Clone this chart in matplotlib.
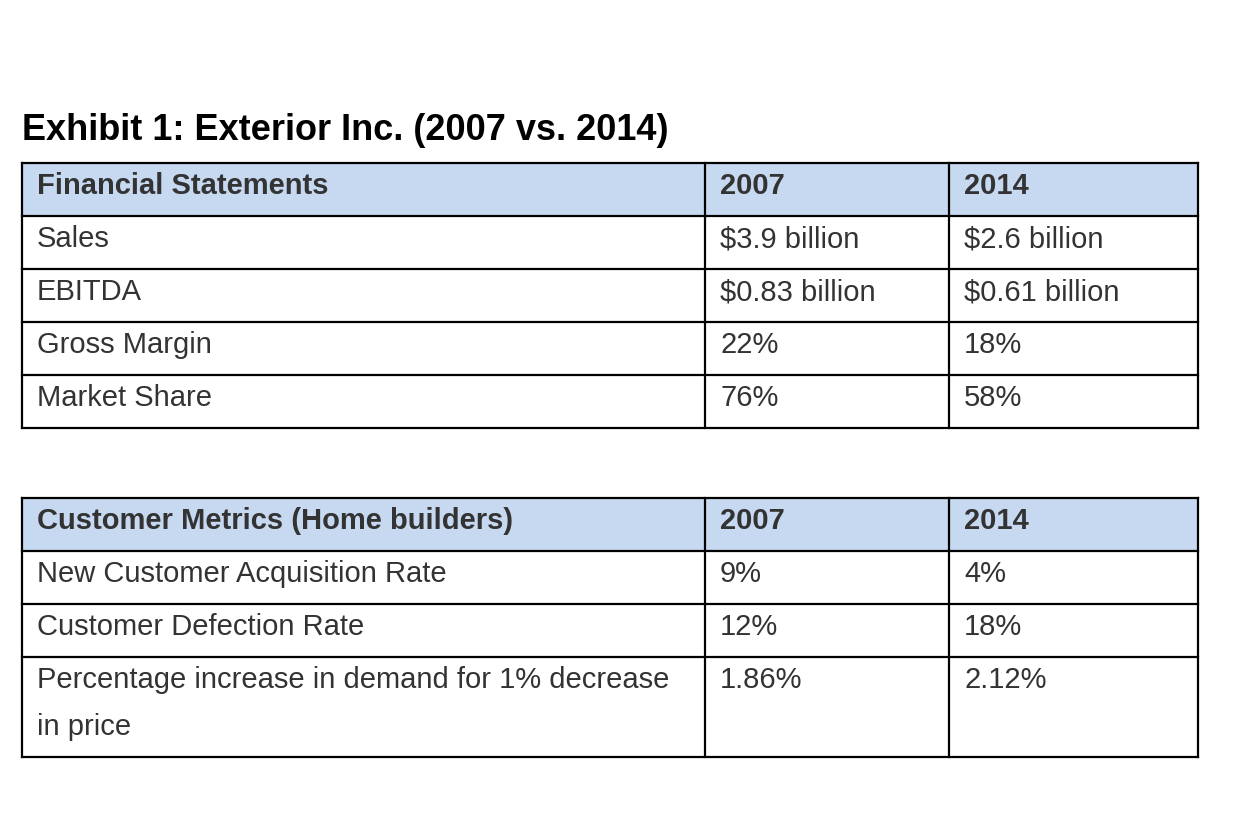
import matplotlib
matplotlib.use('Agg')
import matplotlib.pyplot as plt
from matplotlib.patches import Rectangle

plt.rcParams['font.family'] = ['Liberation Sans', 'DejaVu Sans']

# Data
title = "Exhibit 1: Exterior Inc. (2007 vs. 2014)"
years = ["2007", "2014"]

fin_header = "Financial Statements"
fin_rows = ["Sales", "EBITDA", "Gross Margin", "Market Share"]
fin_2007 = ["$3.9 billion", "$0.83 billion", "22%", "76%"]
fin_2014 = ["$2.6 billion", "$0.61 billion", "18%", "58%"]

cust_header = "Customer Metrics (Home builders)"
cust_rows = ["New Customer Acquisition Rate", "Customer Defection Rate",
             "Percentage increase in demand for 1% decrease\nin price"]
cust_2007 = ["9%", "12%", "1.86%"]
cust_2014 = ["4%", "18%", "2.12%"]

# Layout (pixel units)
W, H = 1238, 813
col_x = [22, 705, 949, 1198]
row_h = 53
line_h = 47
pad_x = 15
text_dy = 23
header_bg = '#c6d9f1'
text_color = '#333333'
fs = 21

fig = plt.figure(figsize=(W / 100, H / 100), dpi=100)
ax = fig.add_axes([0, 0, 1, 1])
ax.set_xlim(0, W)
ax.set_ylim(H, 0)
ax.axis('off')

ax.text(col_x[0], 130, title, fontsize=26, fontweight='bold', color='black',
        ha='left', va='center')


def draw_table(top, header, labels, c1, c2):
    rows = [(header, years[0], years[1], True)] + \
           [(l, a, b, False) for l, a, b in zip(labels, c1, c2)]
    y = top
    ys = [y]
    for label, a, b, is_head in rows:
        n_lines = label.count('\n') + 1
        h = row_h + (n_lines - 1) * line_h
        if is_head:
            ax.add_patch(Rectangle((col_x[0], y), col_x[-1] - col_x[0], h,
                                   facecolor=header_bg, edgecolor='none', zorder=1))
        weight = 'bold' if is_head else 'normal'
        for i, txt in enumerate(label.split('\n')):
            ax.text(col_x[0] + pad_x, y + text_dy + i * line_h, txt, fontsize=fs,
                    fontweight=weight, color=text_color, ha='left', va='center', zorder=3)
        ax.text(col_x[1] + pad_x, y + text_dy, a, fontsize=fs, fontweight=weight,
                color=text_color, ha='left', va='center', zorder=3)
        ax.text(col_x[2] + pad_x, y + text_dy, b, fontsize=fs, fontweight=weight,
                color=text_color, ha='left', va='center', zorder=3)
        y += h
        ys.append(y)
    # grid lines
    for yy in ys:
        ax.plot([col_x[0], col_x[-1]], [yy, yy], color='black', lw=1.6,
                solid_capstyle='projecting', zorder=4)
    for xx in col_x:
        ax.plot([xx, xx], [ys[0], ys[-1]], color='black', lw=1.6,
                solid_capstyle='projecting', zorder=4)


draw_table(163, fin_header, fin_rows, fin_2007, fin_2014)
draw_table(498, cust_header, cust_rows, cust_2007, cust_2014)

fig.savefig('out.png', dpi=100, facecolor='white')
